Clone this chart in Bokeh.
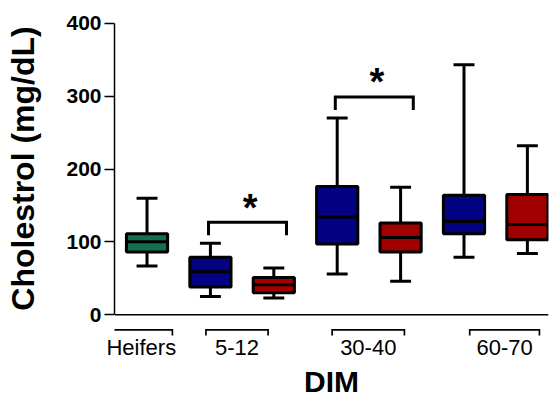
import numpy as np
from bokeh.plotting import figure
from bokeh.models import Range1d, FixedTicker, Span
from bokeh.core.properties import value
from bokeh.embed import file_html
from bokeh.resources import INLINE

# ---------------- data ----------------
box_names = ["Heifers", "5-12 a", "5-12 b", "30-40 a", "30-40 b", "60-70 a", "60-70 b"]
whisker_low = [67, 25, 23, 56, 46, 79, 84]
q1 = [86, 38, 30, 97, 86, 111, 103]
median = [100, 59, 41, 134, 106, 128, 124]
q3 = [111, 79, 51, 176, 126, 164, 165]
whisker_high = [160, 98, 64, 270, 175, 343, 232]

group_names = ["Heifers", "5-12", "30-40", "60-70"]
group_members = [[0], [1, 2], [3, 4], [5, 6]]

sig_pairs = [(1, 2), (3, 4)]
sig_marks = ["*", "*"]

y_ticks = [0, 100, 200, 300, 400]

# ---------------- styles / layout ----------------
GREEN, BLUE, RED = "#11704e", "#020282", "#a00000"
box_colors = [GREEN, BLUE, RED, BLUE, RED, BLUE, RED]
FONT = "Liberation Sans"
BOX_W = 0.65
CAP_W = 0.33
bracket_shift = [-0.09, -0.08, -0.01, 0.14]
bracket_half = [0.49, 0.49, 0.57, 0.55]

pos = np.arange(len(box_names), dtype=float)

p = figure(width=556, height=400, output_backend="svg", toolbar_location=None,
           x_range=Range1d(-0.513, 6.333), y_range=Range1d(-29.9, 431.3),
           min_border_left=114, min_border_right=8, min_border_top=0,
           min_border_bottom=61)
p.xgrid.visible = False
p.ygrid.visible = False
p.outline_line_color = None
p.background_fill_color = "white"
p.border_fill_color = "white"

# whiskers
p.segment(x0=pos, y0=q3, x1=pos, y1=whisker_high, line_color="black", line_width=3)
p.segment(x0=pos, y0=whisker_low, x1=pos, y1=q1, line_color="black", line_width=3)
p.segment(x0=pos - CAP_W / 2, y0=whisker_high, x1=pos + CAP_W / 2, y1=whisker_high,
          line_color="black", line_width=3)
p.segment(x0=pos - CAP_W / 2, y0=whisker_low, x1=pos + CAP_W / 2, y1=whisker_low,
          line_color="black", line_width=3)
# boxes
p.vbar(x=pos, width=BOX_W, bottom=q1, top=q3, fill_color=box_colors,
       line_color="black", line_width=3)
p.segment(x0=pos - BOX_W / 2, y0=median, x1=pos + BOX_W / 2, y1=median,
          line_color="black", line_width=3)

# significance brackets
for (a, b), mark in zip(sig_pairs, sig_marks):
    top = max(whisker_high[a], whisker_high[b]) + 29
    xl, xr = pos[a] - 0.03, pos[b] + 0.2
    p.line(x=[xl, xl, xr, xr], y=[top - 18, top, top, top - 18],
           line_color="black", line_width=3, line_join="miter")
    p.text(x=[(xl + xr) / 2 + 0.04], y=[top + 20], text=[mark],
           text_font=value(FONT), text_font_style="bold", text_font_size="38px",
           text_align="center", text_baseline="alphabetic", text_color="black")

# baseline (x axis line at 0)
p.add_layout(Span(location=0, dimension="width", line_color="black", line_width=1.5))

# category brackets
label_x = []
for i, members in enumerate(group_members):
    c = float(np.mean(pos[members])) + bracket_shift[i]
    label_x.append(c)
    xl, xr = c - bracket_half[i], c + bracket_half[i]
    p.line(x=[xl, xl, xr, xr], y=[-28.6, -20.8, -20.8, -28.6],
           line_color="black", line_width=1.7, line_join="miter")

# y axis
ya = p.yaxis[0]
ya.bounds = (0, 400)
ya.ticker = FixedTicker(ticks=y_ticks)
ya.minor_tick_line_color = None
ya.major_tick_in = 0
ya.major_tick_out = 10
ya.major_tick_line_width = 1.5
ya.axis_line_width = 1.5
ya.axis_line_color = "black"
ya.major_tick_line_color = "black"
ya.major_label_text_font = FONT
ya.major_label_text_font_style = "bold"
ya.major_label_text_font_size = "21px"
ya.major_label_text_color = "black"
ya.major_label_standoff = 3
ya.axis_label = "Cholestrol (mg/dL)"
ya.axis_label_text_font = FONT
ya.axis_label_text_font_style = "bold"
ya.axis_label_text_font_size = "32px"
ya.axis_label_text_color = "black"
ya.axis_label_standoff = 22

# x axis (category labels + title)
xa = p.xaxis[0]
xa.ticker = FixedTicker(ticks=label_x)
xa.major_label_overrides = {x: n for x, n in zip(label_x, group_names)}
xa.axis_line_color = None
xa.major_tick_line_color = None
xa.minor_tick_line_color = None
xa.major_tick_out = 0
xa.major_tick_in = 0
xa.major_label_standoff = -2
xa.major_label_text_font = FONT
xa.major_label_text_font_size = "22px"
xa.major_label_text_color = "black"
xa.axis_label = "DIM"
xa.axis_label_text_font = FONT
xa.axis_label_text_font_style = "bold"
xa.axis_label_text_font_size = "30px"
xa.axis_label_text_color = "black"
xa.axis_label_standoff = 2

open("out.html", "w").write(file_html(p, INLINE))
